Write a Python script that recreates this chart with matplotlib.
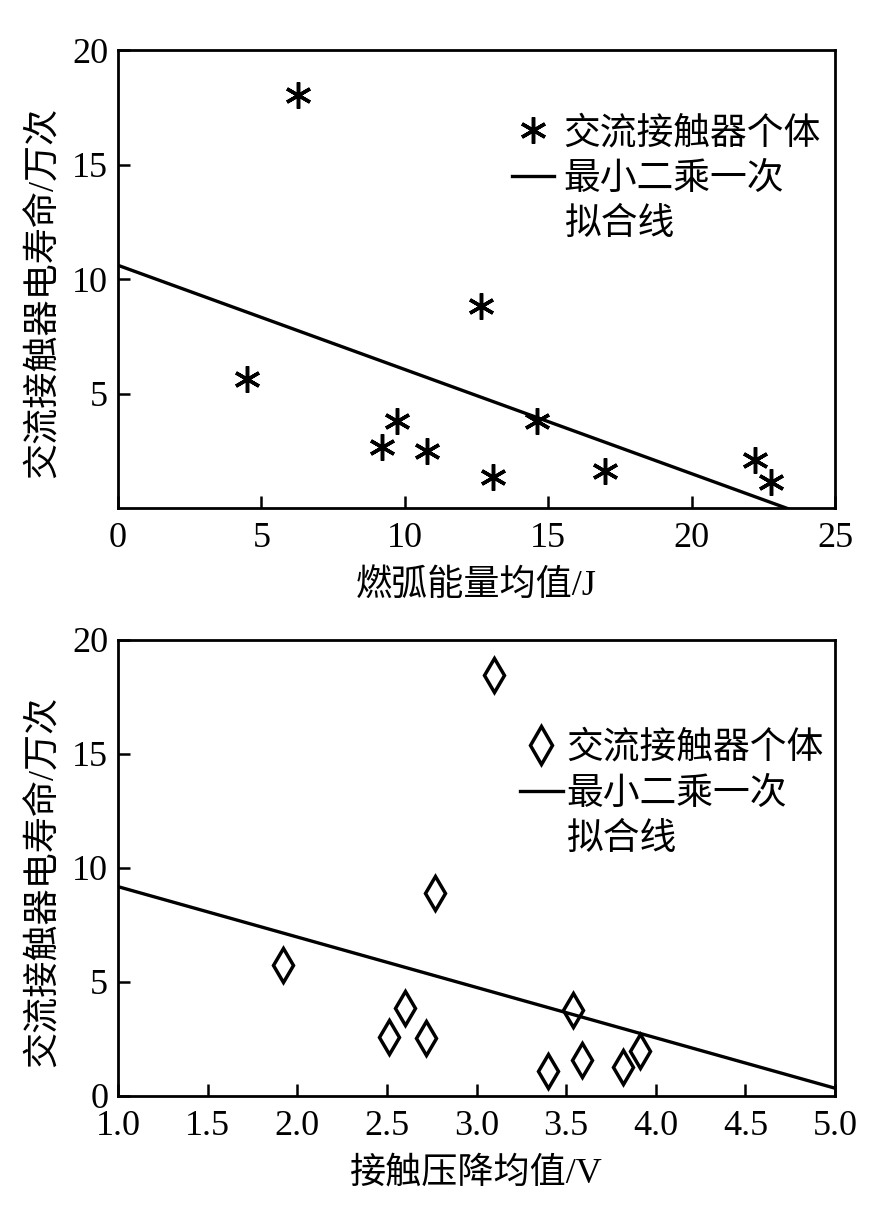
import numpy as np
import matplotlib
matplotlib.use('Agg')
import matplotlib.pyplot as plt
from matplotlib.lines import Line2D

plt.rcParams['font.family'] = ['Liberation Serif', 'Noto Sans CJK SC']
plt.rcParams['axes.unicode_minus'] = False

# top panel: arc energy vs electrical life
energy = [4.49, 6.27, 9.22, 9.72, 10.78, 12.67, 13.09, 14.60, 16.97, 22.22, 22.77]
life_e = [5.63, 18.03, 2.68, 3.81, 2.50, 8.82, 1.34, 3.81, 1.63, 2.10, 1.15]
fit_e = (10.6, -0.455)   # intercept, slope

# bottom panel: contact voltage drop vs electrical life
vdrop = [1.92, 2.51, 2.60, 2.72, 2.77, 3.10, 3.40, 3.54, 3.59, 3.82, 3.91]
life_v = [5.75, 2.60, 3.85, 2.56, 8.89, 18.46, 1.11, 3.77, 1.58, 1.29, 1.99]
fit_v = (11.39, -2.21)

ylab = '交流接触器电寿命/万次'
leg_labels = ['交流接触器个体', '最小二乘一次', '拟合线']

fig = plt.figure(figsize=(8.76, 12.09), dpi=100)
ax1 = fig.add_axes([0.1347, 0.5798, 0.8185, 0.3788])
ax2 = fig.add_axes([0.1347, 0.0935, 0.8185, 0.3772])

asterisk = (6, 2, 0)


def style(ax):
    for s in ax.spines.values():
        s.set_linewidth(2)
    ax.tick_params(direction='in', length=8.5, width=1.8, labelsize=26,
                   top=False, right=False)
    ax.tick_params(axis='y', pad=7)
    ax.tick_params(axis='x', pad=10)
    ax.set_ylabel(ylab, fontsize=26)
    ax.yaxis.set_label_coords(-0.08, 0.47)


# top
ax1.plot(energy, life_e, linestyle='none', marker=asterisk, ms=19, mew=2.5,
         color='black')
xs = np.array([0, 25])
ax1.plot(xs, fit_e[0] + fit_e[1] * xs, color='black', lw=2.4)
ax1.set_xlim(0, 25)
ax1.set_ylim(0, 20)
ax1.set_xticks([0, 5, 10, 15, 20, 25])
ax1.set_yticks([5, 10, 15, 20])
ax1.set_xlabel('燃弧能量均值/J', fontsize=26, labelpad=10)
style(ax1)

# bottom
ax2.plot(vdrop, life_v, linestyle='none', marker='d', ms=17, mew=2.5,
         mfc='none', color='black')
xs = np.array([1.0, 5.0])
ax2.plot(xs, fit_v[0] + fit_v[1] * xs, color='black', lw=2.4)
ax2.set_xlim(1.0, 5.0)
ax2.set_ylim(0, 20)
ax2.set_xticks(np.arange(1.0, 5.01, 0.5))
ax2.set_xticklabels([f'{v:.1f}' for v in np.arange(1.0, 5.01, 0.5)])
ax2.set_yticks([0, 5, 10, 15, 20])
ax2.set_xlabel('接触压降均值/V', fontsize=26, labelpad=10)
style(ax2)


def add_legend(ax, marker, mfc, anchor, textpad):
    handles = [Line2D([], [], linestyle='none', marker=marker, ms=19, mew=2.5,
                      color='black', mfc=mfc),
               Line2D([], [], color='black', lw=2.4),
               Line2D([], [], linestyle='none')]
    ax.legend(handles, leg_labels, loc='upper left', bbox_to_anchor=anchor,
              frameon=False, fontsize=26.5, handlelength=1.15,
              handletextpad=textpad, labelspacing=0.3, borderpad=0,
              borderaxespad=0)


add_legend(ax1, asterisk, 'black', (0.5495, 0.855), 0.25)
add_legend(ax2, 'd', 'none', (0.561, 0.80), 0.1)

fig.savefig('out.png', dpi=100)
